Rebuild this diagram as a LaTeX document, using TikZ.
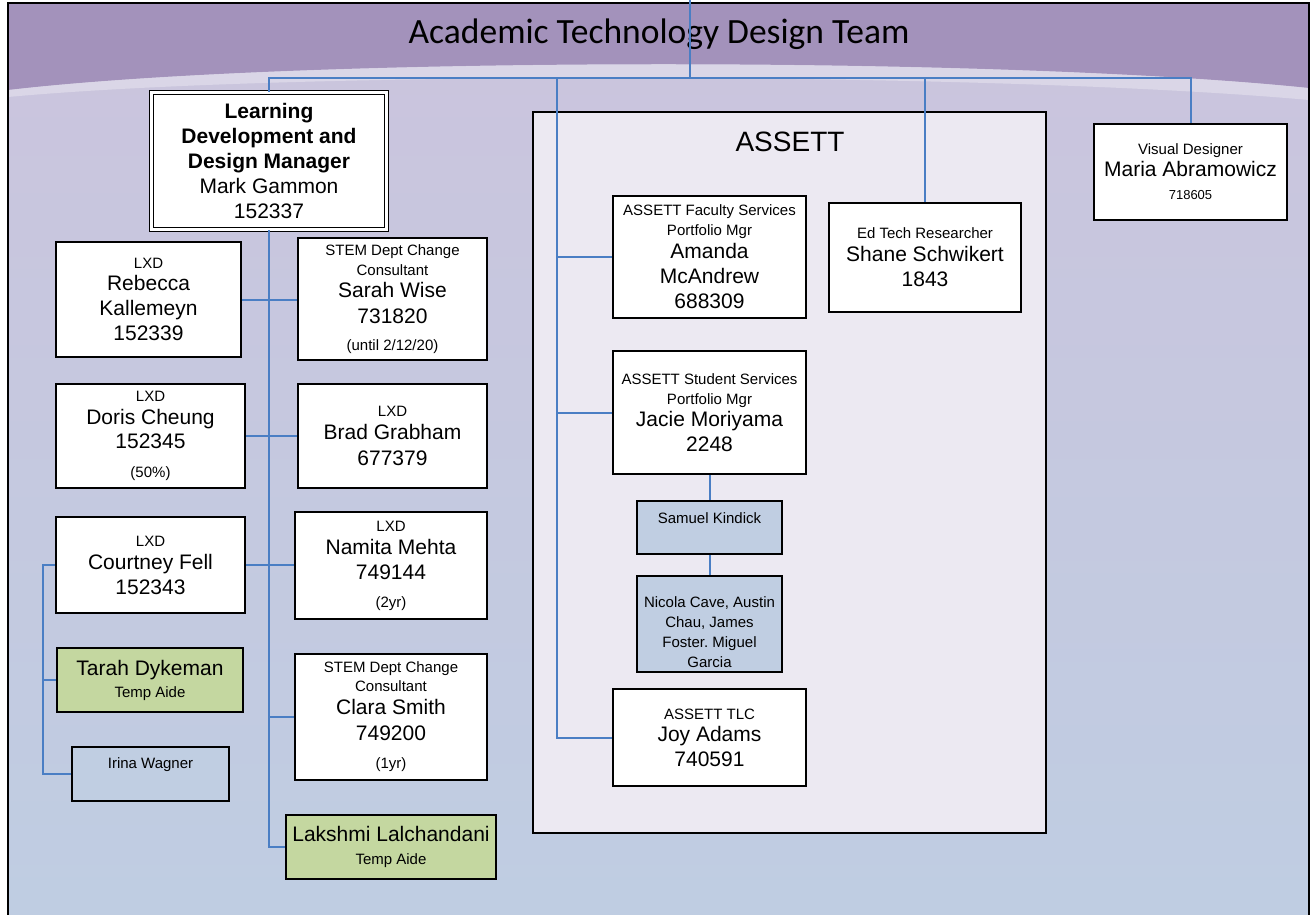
\documentclass[tikz,border=0pt]{standalone}
\usepackage{fontspec}
\setmainfont{Liberation Sans}
\newfontfamily\titlefont{Carlito}
\frenchspacing
\definecolor{headerpurple}{RGB}{163,146,187}
\definecolor{bgtop}{RGB}{203,196,221}
\definecolor{bgbottom}{RGB}{191,205,226}
\definecolor{assettfill}{RGB}{236,233,242}
\definecolor{aidegreen}{RGB}{196,215,160}
\definecolor{helperblue}{RGB}{192,206,226}
\definecolor{linkblue}{RGB}{74,126,196}
\newcommand\namesize{\fontsize{21}{25}\selectfont}
\newcommand\rolesize{\fontsize{15}{20}\selectfont}
\begin{document}
\begin{tikzpicture}[x=1pt,y=-1pt,
				staff/.style={draw, line width=1.6pt, fill=white, align=center, inner sep=0pt, font=\rolesize},
				aide/.style={staff, fill=aidegreen},
				helper/.style={staff, fill=helperblue},
				boxsize/.style 2 args={minimum width=#1pt, minimum height=#2pt},
				link/.style={draw=linkblue, line width=2pt}]
\useasboundingbox (0,0) rectangle (1311,915);
\shade[top color=bgtop, bottom color=bgbottom] (8,3) rectangle (1309,915);
\fill[headerpurple] (8,3) -- (1309,3) -- (1309,88) .. controls (1000,56) and (300,56) .. (8,90) -- cycle;
\fill[white, opacity=0.3] (8,90) .. controls (300,56) and (1000,56) .. (1309,88) -- (1309,100) .. controls (1000,72) and (300,70) .. (8,97) -- cycle;
\draw[line width=1.5pt] (8,3) rectangle (1309,917);
\node[anchor=base, inner sep=0pt, font=\titlefont\fontsize{35.5}{40}\selectfont] (title) at (659,43.5) {Academic Technology Design Team};

\node[draw, line width=1.6pt, fill=assettfill, boxsize={513}{721}] (assett) at (789.5,472.5) {};
\node[anchor=base, inner sep=0pt, font=\fontsize{28}{30}\selectfont] (assetttitle) at (790,151) {ASSETT};

\node[staff, double, double distance=3pt, line width=1.1pt, font=\namesize, boxsize={235}{137}] (mgr) at (269,161)
	{\textbf{Learning}\\\textbf{Development and}\\\textbf{Design Manager}\\Mark Gammon\\152337};
\node[staff, boxsize={185}{115}] (rebecca) at (148.5,299.5)
	{LXD\\[2pt]{\namesize Rebecca}\\[5pt]{\namesize Kallemeyn}\\[5pt]{\namesize 152339}};
\node[staff, boxsize={189}{122}] (sarah) at (392.5,299)
	{STEM Dept Change\\Consultant\\[2pt]{\namesize Sarah Wise}\\[6pt]{\namesize 731820}\\[7pt](until 2/12/20)};
\node[staff, boxsize={189}{104}] (doris) at (150.5,436)
	{LXD\\[3pt]{\namesize Doris Cheung}\\[4pt]{\namesize 152345}\\[9pt](50\%)};
\node[staff, boxsize={189}{104}] (brad) at (392.5,436)
	{LXD\\[3pt]{\namesize Brad Grabham}\\[6pt]{\namesize 677379}};
\node[staff, boxsize={189}{96}] (courtney) at (150.5,565)
	{LXD\\[3pt]{\namesize Courtney Fell}\\[5pt]{\namesize 152343}};
\node[staff, boxsize={192}{107}] (namita) at (391,565.5)
	{LXD\\[3pt]{\namesize Namita Mehta}\\[5pt]{\namesize 749144}\\[8pt](2yr)};
\node[aide, boxsize={186}{64}] (tarah) at (150,680)
	{{\namesize Tarah Dykeman}\\[2pt]Temp Aide};
\node[helper, boxsize={157}{54}, text height=11pt, text depth=23pt] (irina) at (150.5,774) {Irina Wagner};
\node[staff, boxsize={192}{126}] (clara) at (391,717)
	{STEM Dept Change\\[-1pt]Consultant\\[3pt]{\namesize Clara Smith}\\[6pt]{\namesize 749200}\\[8pt](1yr)};
\node[aide, boxsize={210}{64}] (lakshmi) at (391,847)
	{{\namesize Lakshmi Lalchandani}\\[3pt]Temp Aide};

\node[staff, boxsize={193}{122}] (amanda) at (709.5,257)
	{ASSETT Faculty Services\\Portfolio Mgr\\[3pt]{\namesize Amanda}\\[5pt]{\namesize McAndrew}\\[5pt]{\namesize 688309}};
\node[staff, boxsize={192}{109}] (edtech) at (925,257.5)
	{Ed Tech Researcher\\[3pt]{\namesize Shane Schwikert}\\[5pt]{\namesize 1843}};
\node[staff, boxsize={193}{123}] (jacie) at (709.5,412.5)
	{ASSETT Student Services\\Portfolio Mgr\\[2pt]{\namesize Jacie Moriyama}\\[5pt]{\namesize 2248}};
\node[helper, boxsize={145}{53}, text height=11pt, text depth=20pt] (samuel) at (709.5,527.5) {Samuel Kindick};
\node[helper, boxsize={145}{96}] (nicola) at (709.5,624)
	{\rule{0pt}{27pt}Nicola Cave, Austin\\Chau, James\\Foster. Miguel\\Garcia};
\node[staff, boxsize={193}{97}] (joy) at (709.5,737.5)
	{ASSETT TLC\\[2pt]{\namesize Joy Adams}\\[5pt]{\namesize 740591}};
\node[staff, boxsize={193}{96}] (visual) at (1190.5,172)
	{Visual Designer\\[2pt]{\namesize Maria Abramowicz}\\[3pt]{\fontsize{13}{16}\selectfont 718605}};

\coordinate (top) at (690,0);
\coordinate (bus) at (690,78);
\coordinate (atrunk) at (557,78);
\coordinate (ctrunk) at (43,565);
\draw[link] (top) -- (bus);
\draw[link] (mgr.north) |- (visual.north |- bus) -- (visual.north);
\draw[link] (edtech.north |- bus) -- (edtech.north);
\draw[link] (atrunk) |- (joy.west);
\draw[link] (atrunk |- amanda.west) -- (amanda.west);
\draw[link] (atrunk |- jacie.west) -- (jacie.west);
\draw[link] (jacie.south) -- (samuel.north);
\draw[link] (samuel.south) -- (nicola.north);
\draw[link] (mgr.south) |- (lakshmi.west);
\draw[link] (rebecca.east) -- (rebecca.east -| sarah.west);
\draw[link] (doris.east) -- (brad.west);
\draw[link] (courtney.east) -- (courtney.east -| namita.west);
\draw[link] (clara.west) -- (clara.west -| mgr.south);
\draw[link] (courtney.west) -- (ctrunk) |- (irina.west);
\draw[link] (ctrunk |- tarah.west) -- (tarah.west);
\end{tikzpicture}
\end{document}
